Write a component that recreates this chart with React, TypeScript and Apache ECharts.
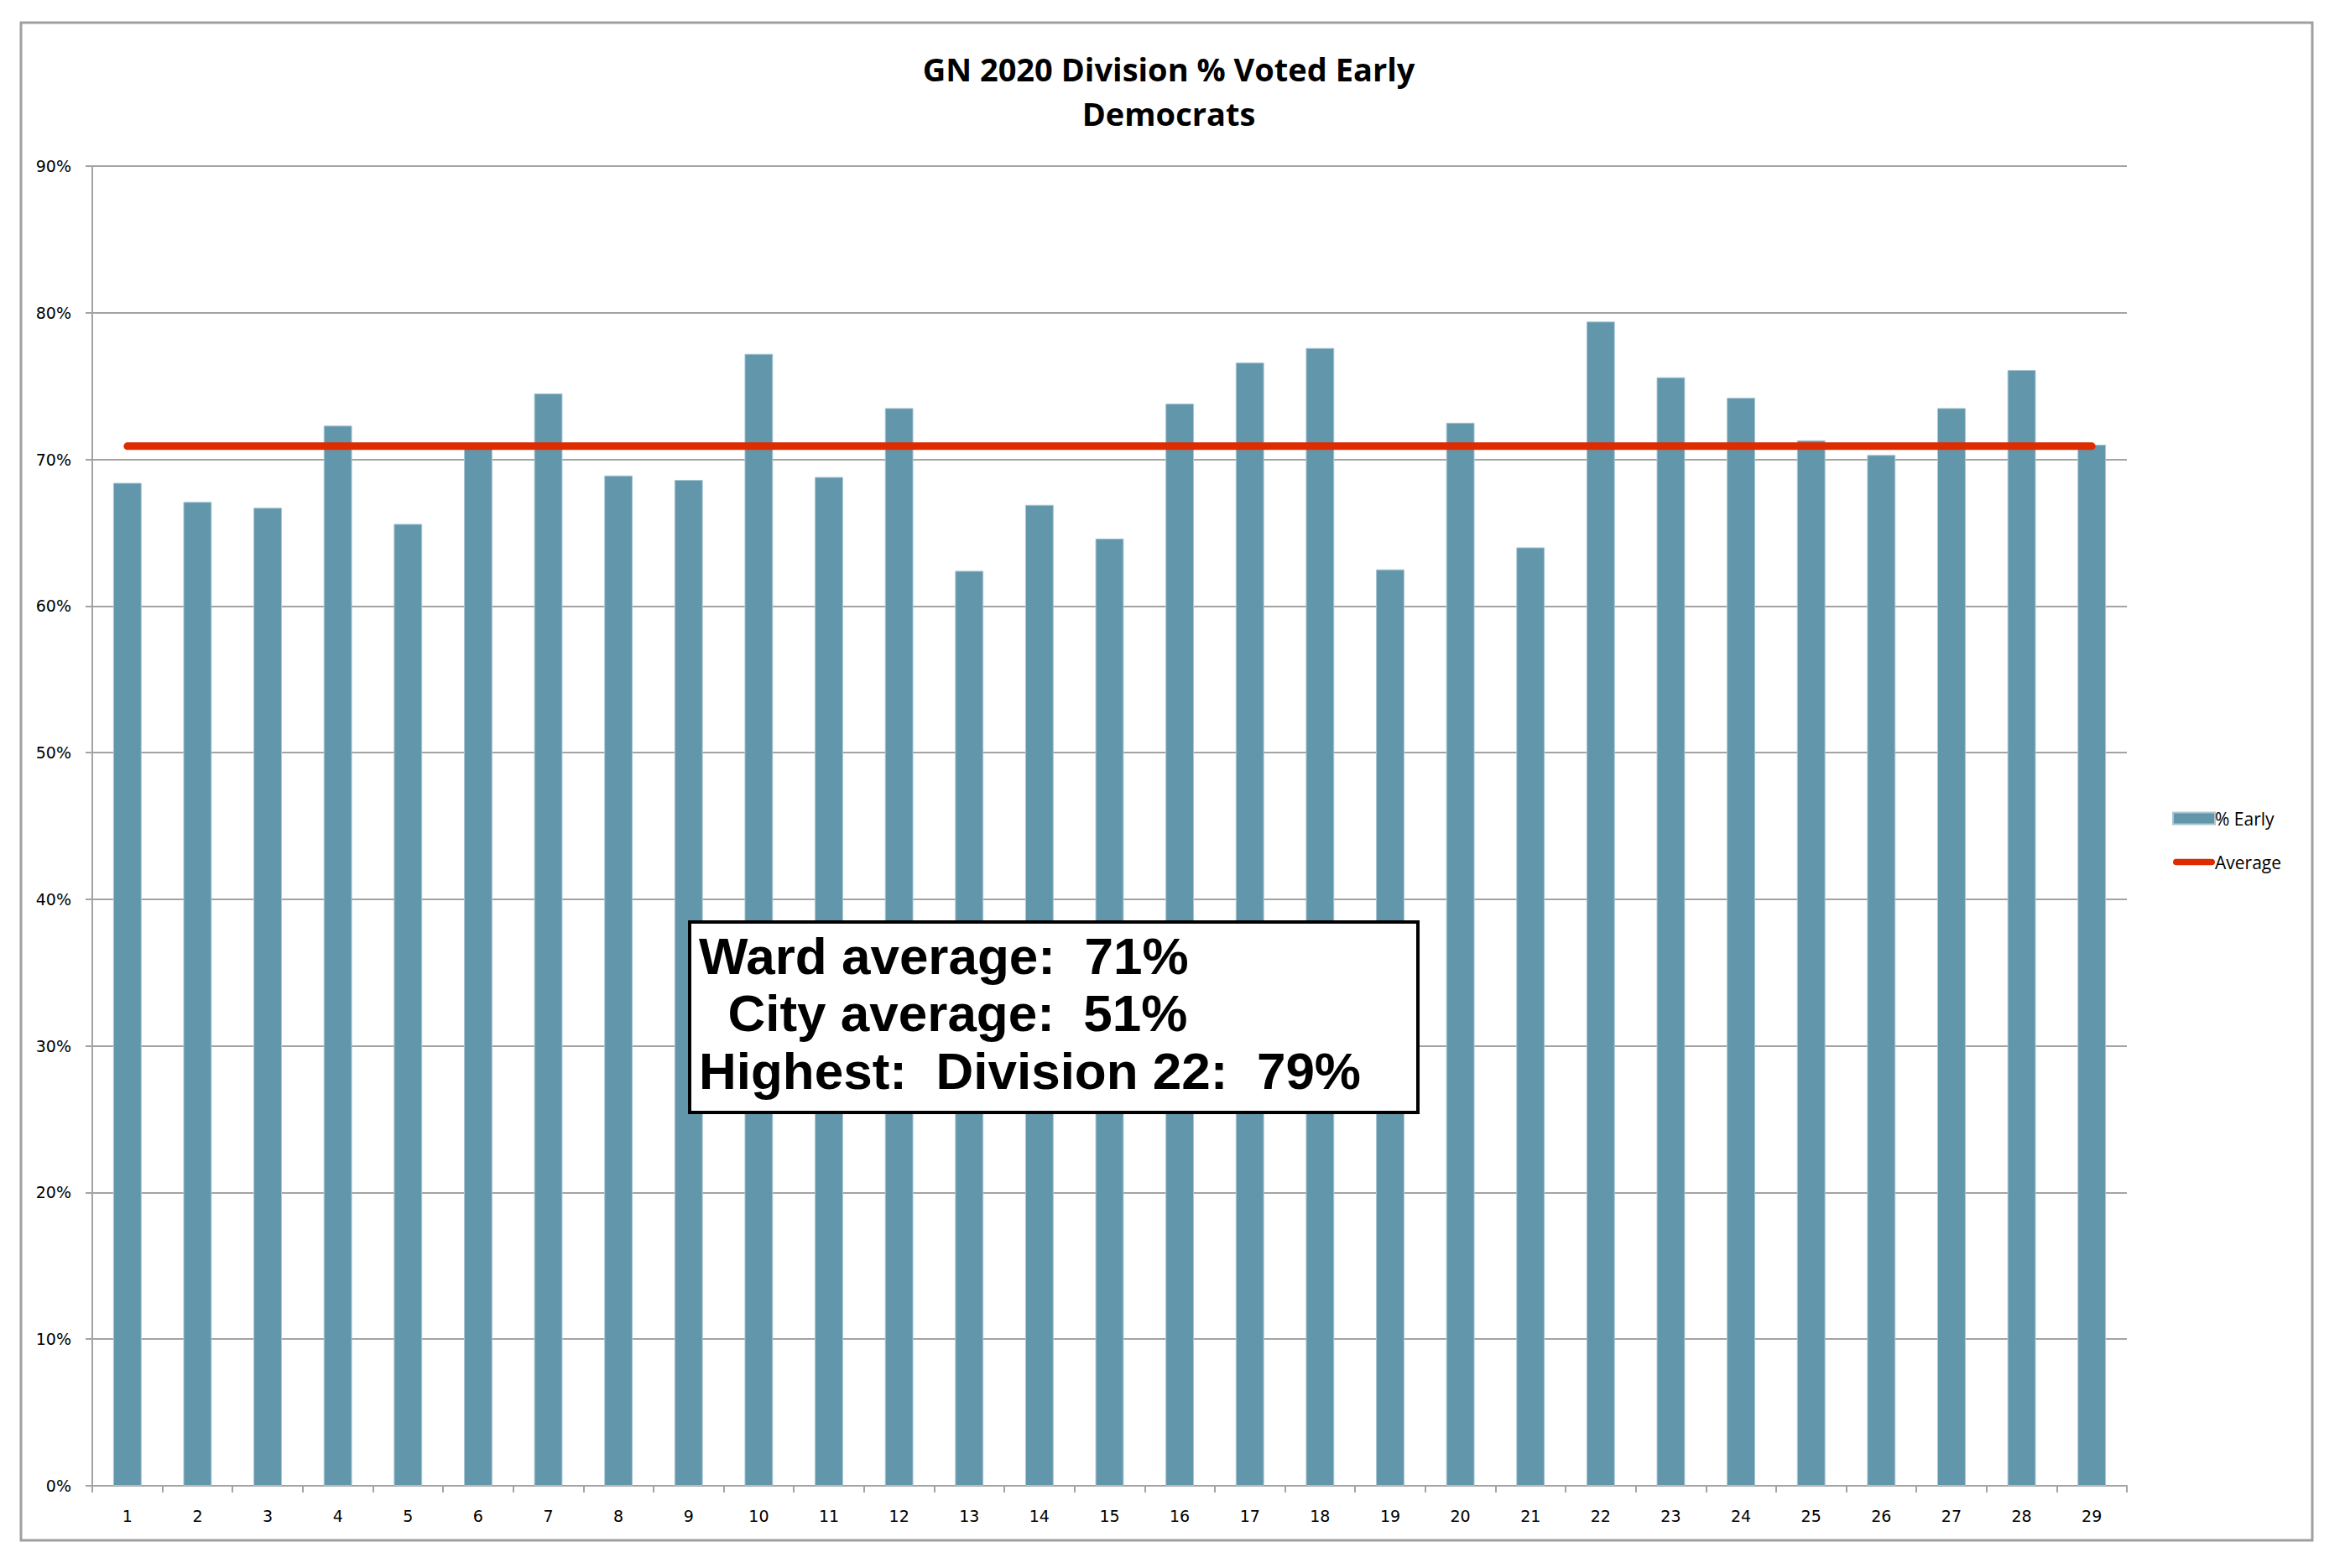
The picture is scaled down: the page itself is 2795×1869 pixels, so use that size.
import React, { useEffect, useRef } from "react";
import * as echarts from "echarts";

const categories = ["1","2","3","4","5","6","7","8","9","10","11","12","13","14","15","16","17","18","19","20","21","22","23","24","25","26","27","28","29"];
const earlyPct = [68.4, 67.1, 66.7, 72.3, 65.6, 70.8, 74.5, 68.9, 68.6, 77.2, 68.8, 73.5, 62.4, 66.9, 64.6, 73.8, 76.6, 77.6, 62.5, 72.5, 64.0, 79.4, 75.6, 74.2, 71.3, 70.3, 73.5, 76.1, 71.0];
const averagePct = [70.9, 70.9, 70.9, 70.9, 70.9, 70.9, 70.9, 70.9, 70.9, 70.9, 70.9, 70.9, 70.9, 70.9, 70.9, 70.9, 70.9, 70.9, 70.9, 70.9, 70.9, 70.9, 70.9, 70.9, 70.9, 70.9, 70.9, 70.9, 70.9];
const titleLines = ["GN 2020 Division % Voted Early", "Democrats"];
const seriesNames = ["% Early", "Average"];
const boxLines = ["Ward average:  71%", "  City average:  51%", "Highest:  Division 22:  79%"];

export default function App() {
  const ref = useRef<HTMLDivElement>(null);
  useEffect(() => {
    if (!ref.current) return;
    const chart = echarts.init(ref.current, null, { renderer: "svg" });
    const gridColor = "#a3a3a3";
    chart.setOption({
      animation: false,
      backgroundColor: "#ffffff",
      title: {
        text: titleLines.join("\n"),
        left: 1388,
        textAlign: "center",
        top: 50,
        textStyle: {
          fontFamily: "Open Sans",
          fontWeight: "bold",
          fontSize: 38,
          lineHeight: 53,
          color: "#000",
        },
      },
      legend: {
        orient: "vertical",
        left: 2584,
        top: 960,
        itemWidth: 50,
        itemHeight: 14,
        itemGap: 31,
        textStyle: { fontFamily: "Open Sans", fontSize: 21, color: "#000", padding: [0, 0, 0, -5] },
        data: [
          { name: seriesNames[0], icon: "rect" },
          {
            name: seriesNames[1],
            icon: "path://M4.5,0 L54.5,0 A4.5,4.5 0 0 1 54.5,9 L4.5,9 A4.5,4.5 0 0 1 4.5,0 Z",
          },
        ],
      },
      grid: { left: 110, right: 260, top: 198, bottom: 98, containLabel: false },
      xAxis: {
        type: "category",
        data: categories,
        boundaryGap: true,
        axisLine: { lineStyle: { color: gridColor, width: 2 } },
        axisTick: { show: true, length: 8, lineStyle: { color: gridColor, width: 2 } },
        axisLabel: { fontFamily: "DejaVu Sans", fontSize: 19, color: "#000", margin: 26 },
      },
      yAxis: {
        type: "value",
        min: 0,
        max: 90,
        interval: 10,
        axisLine: { show: true, lineStyle: { color: gridColor, width: 2 } },
        axisTick: { show: true, length: 8, lineStyle: { color: gridColor, width: 2 } },
        axisLabel: { formatter: "{value}%", fontFamily: "DejaVu Sans", fontSize: 19, color: "#000", margin: 25 },
        splitLine: { show: true, lineStyle: { color: gridColor, width: 2 } },
      },
      series: [
        {
          name: seriesNames[0],
          type: "bar",
          data: earlyPct,
          barWidth: "40.5%",
          itemStyle: { color: "#6296ab", borderColor: "#a9c7d3", borderWidth: 1 },
        },
        {
          name: seriesNames[1],
          type: "line",
          data: averagePct,
          symbol: "none",
          lineStyle: { color: "#dd2c00", width: 9, cap: "round" },
          itemStyle: { color: "#dd2c00" },
          z: 3,
        },
      ],
      graphic: [
        {
          type: "rect",
          shape: { x: 25, y: 27, width: 2731, height: 1809 },
          style: { fill: "none", stroke: "#a0a0a0", lineWidth: 3 },
          silent: true,
        },
        {
          type: "rect",
          shape: { x: 822, y: 1099, width: 868, height: 227 },
          style: { fill: "#ffffff", stroke: "#000000", lineWidth: 4 },
          z: 100,
        },
        ...boxLines.map((t, i) => ({
          type: "text",
          x: 833,
          y: 1139 + i * 68.5,
          z: 101,
          style: {
            text: t,
            fontFamily: "Liberation Sans",
            fontWeight: "bold",
            fontSize: 62,
            fill: "#000",
            verticalAlign: "middle",
            align: "left",
          },
        })),
      ],
    });
    return () => chart.dispose();
  }, []);
  return (
    <div
      ref={ref}
      style={{ position: "fixed", left: 0, top: 0, width: 2795, height: 1869, background: "#fff" }}
    />
  );
}
